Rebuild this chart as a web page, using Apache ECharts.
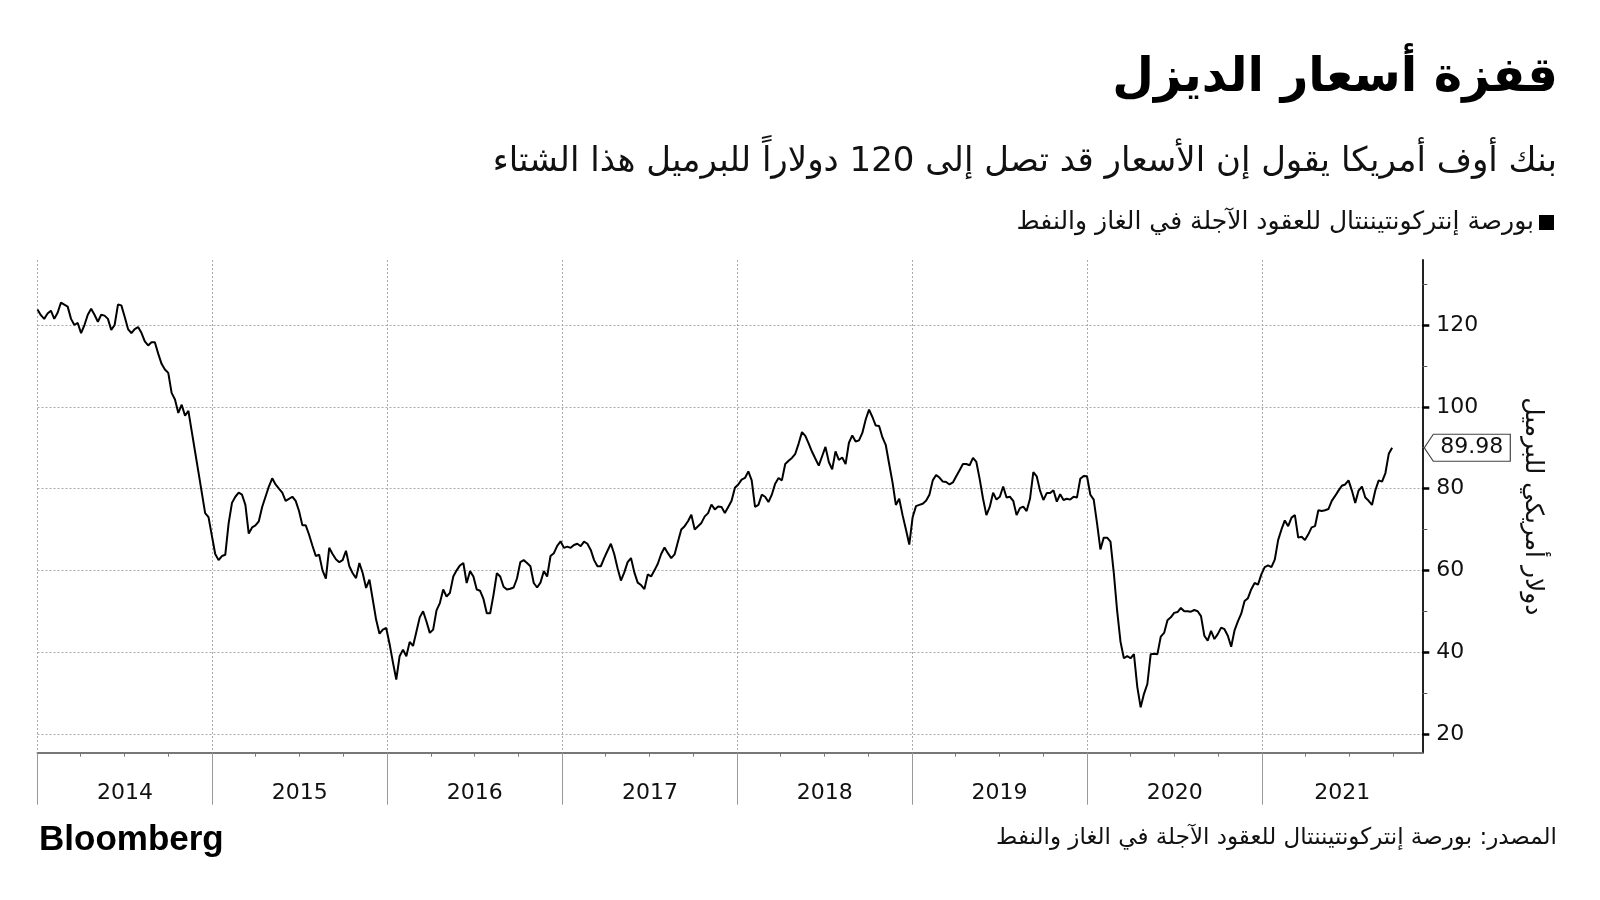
<!DOCTYPE html>
<html><head><meta charset="utf-8">
<script src="https://cdn.jsdelivr.net/npm/echarts@6/dist/echarts.min.js"></script>
<style>html,body{margin:0;padding:0;background:#fff}#c{width:1600px;height:900px}</style>
</head><body><div id="c"></div>
<script>
// ---- data ----
const titleText = 'قفزة أسعار الديزل';
const subtitleText = 'بنك أوف أمريكا يقول إن الأسعار قد تصل إلى 120 دولاراً للبرميل هذا الشتاء';
const seriesName = 'بورصة إنتركونتيننتال للعقود الآجلة في الغاز والنفط';
const sourceText = 'المصدر: بورصة إنتركونتيننتال للعقود الآجلة في الغاز والنفط';
const yAxisName = 'دولار أمريكي للبرميل';
const yearLabels = ['2014','2015','2016','2017','2018','2019','2020','2021'];
const yTickValues = [20, 40, 60, 80, 100, 120];
const yMinorTickValues = [30, 50, 70, 90, 110, 130];
const lastValueLabel = '89.98';
// weekly closes, first one on 2014-01-01
const firstDate = [2014, 0, 1];
const stepDays = 7;
const dieselPrices = [
123.8,122.4,121.5,122.8,123.5,121.5,123,125.5,125,124.5,121.5,120,120.5,118,120,122.5,124,122.5,120.8,122.5,
122.3,121.5,118.8,120,125,124.8,122,119,118,119,119.5,118.1,116,115,115.8,115.8,113,110.5,109.1,108.3,
103.4,101.8,98.5,100.5,97.8,99,94,89,84,79,74,73,68.5,64,62.5,63.5,63.8,71.5,76.5,78,
79,78.5,76,69,70.5,71,72,75.5,78,80.5,82.5,81,80,79,77,77.5,78,77,74.5,71,
71,68.7,66,63.5,63.8,60,58,65.5,64,62.7,62,62.5,64.8,61,59.3,58.1,61.8,59.3,55.7,57.7,
52.8,47.9,44.5,45.5,45.9,42,37.5,33.3,39,40.6,39,42.5,41.5,45,48.5,50,47.5,44.7,45.5,50.2,
52,55.3,53.6,54.5,58.5,60,61.2,61.8,56.9,59.8,58.5,55.3,55,53,49.5,49.5,54,59.3,58.5,56,
55.3,55.5,55.8,58,62,62.5,61.8,61,56.9,55.8,57,59.8,58.5,63.5,64.2,66,67.1,65.5,65.8,65.5,
66.2,66.5,65.9,67,66.5,65,62.5,61,61,63,64.8,66.5,64,60.5,57.5,59.5,62,63,59.5,57,
56.4,55.4,59,58.5,60,61.6,64,65.6,64.2,63,63.9,67,70,70.8,72,73.6,70,70.8,71.6,73.2,
74,76.1,74.9,75.6,75.5,74,75.5,77,80.2,81,82.2,82.6,84.2,82,75.5,76,78.5,78,76.7,78.5,
81.2,82.6,82,86,86.8,87.5,88.5,91,93.8,92.9,91,89,87.3,85.6,87.9,90.2,86.5,84.7,89.1,87,
87.6,86,91.2,93,91.5,91.8,93.6,96.9,99.3,97.5,95.4,95.3,92.5,90.6,86,81.5,76,77.5,73.5,70,
66.3,73,75.7,76,76.3,77,78.5,82,83.3,82.7,81.7,81.6,81,81.5,83,84.5,86,86,85.7,87.5,
86.5,82.3,77.5,73.5,75.5,79,77.3,78,80.5,77.8,78,77,73.5,75.2,75.6,74.5,77.5,84,83,79.5,
77.2,78.9,78.9,79.6,76.8,78.6,77.2,77.5,77.3,78,77.8,82.4,83.1,83,78.5,77.3,71.5,65.1,68,68,
67,59.3,50,42.5,38.5,39,38.5,39.5,31.5,26.5,29.8,32.2,39.5,39.6,39.5,43.8,44.7,47.8,48.5,49.6,
49.8,50.8,50,50,49.9,50.3,50,48.8,44,42.8,45.2,43.2,44.4,46,45.6,44,41.3,45.3,47.5,49.4,
52.5,53.2,55.4,56.9,56.5,59,60.8,61.2,60.8,62.6,67.4,70,72.2,70.8,72.9,73.5,68,68.2,67.4,68.8,
70.5,70.8,74.7,74.5,74.7,75,77,78.2,79.5,80.7,81,82,79.5,76.5,79.5,80.5,77.8,77,76,79.6,
82,81.7,83.8,88.5,89.98
];

// ---- build ----
const arabicFont = "'DejaVu Sans', sans-serif";
const latinFont = "'DejaVu Sans', sans-serif";
const seriesData = dieselPrices.map((v, i) => [new Date(firstDate[0], firstDate[1], firstDate[2] + i * stepDays).getTime(), v]);
const tMin = new Date(2014, 0, 1).getTime();
const tMax = new Date(2021, 11, 1).getTime();
const yearStarts = yearLabels.map(y => new Date(+y, 0, 1).getTime());
const yearMids = yearLabels.map(y => {
  const a = new Date(+y, 0, 1).getTime();
  const b = Math.min(new Date(+y + 1, 0, 1).getTime(), tMax);
  return (a + b) / 2;
});
const quarterTicks = [];
yearLabels.forEach(y => { [3, 6, 9].forEach(m => { const t = new Date(+y, m, 1).getTime(); if (t < tMax) quarterTicks.push(t); }); });

const chart = echarts.init(document.getElementById('c'), null, {renderer: 'canvas'});
const option = {
  backgroundColor: '#fff',
  animation: false,
  textStyle: {fontFamily: latinFont},
  title: [
    {text: titleText, right: 37, top: 50, textStyle: {fontFamily: arabicFont, fontSize: 48, fontWeight: 'bold', color: '#000'}},
    {text: subtitleText, right: 38, top: 140, textStyle: {fontFamily: arabicFont, fontSize: 34, fontWeight: 'normal', color: '#111'}},
    {text: sourceText, right: 38, top: 822, textStyle: {fontFamily: arabicFont, fontSize: 23, fontWeight: 'normal', color: '#111'}},
    {text: 'Bloomberg', left: 34, top: 818, textStyle: {fontFamily: "'Liberation Sans', Arial, sans-serif", fontSize: 35, fontWeight: 'bold', color: '#000'}}
  ],
  legend: {
    right: 41, top: 205, icon: 'rect', itemWidth: 15, itemHeight: 15, align: 'right',
    textStyle: {fontFamily: arabicFont, fontSize: 25, color: '#111'},
    data: [{name: seriesName, itemStyle: {color: '#000'}}]
  },
  grid: {left: 37.5, right: 177.7, top: 260, bottom: 147.3},
  xAxis: [
    {
      type: 'value', min: tMin, max: tMax, position: 'bottom',
      axisLine: {show: true, lineStyle: {color: '#777', width: 2}},
      axisTick: {show: true, customValues: yearStarts, length: 52, lineStyle: {color: '#999', width: 1}},
      axisLabel: {show: false},
      splitLine: {show: true, lineStyle: {color: '#aaa', width: 1, type: [2, 2]}}
    },
    {
      type: 'value', min: tMin, max: tMax, position: 'bottom',
      axisLine: {show: false},
      axisTick: {show: true, customValues: quarterTicks, length: 4, lineStyle: {color: '#777', width: 1}},
      axisLabel: {show: true, customValues: yearMids, margin: 30, fontSize: 22, color: '#111', fontFamily: latinFont,
        formatter: (v) => yearLabels[new Date(v).getFullYear() - 2014]},
      splitLine: {show: false}
    }
  ],
  yAxis: [
    {
      type: 'value', position: 'right', min: 15.4, max: 135.9,
      name: yAxisName, nameLocation: 'middle', nameGap: 98, nameRotate: -90,
      nameTextStyle: {fontFamily: arabicFont, fontSize: 25, color: '#111'},
      axisLine: {show: true, lineStyle: {color: '#222', width: 2}},
      axisTick: {show: true, customValues: yTickValues, length: 7, lineStyle: {color: '#000', width: 2.5}},
      axisLabel: {show: true, customValues: yTickValues, margin: 14, fontSize: 22, color: '#111', fontFamily: latinFont},
      splitLine: {show: true, lineStyle: {color: '#aaa', width: 1, type: [2, 2]}}
    },
    {
      type: 'value', position: 'right', min: 15.4, max: 135.9,
      axisLine: {show: false},
      axisTick: {show: true, customValues: yMinorTickValues, length: 5, lineStyle: {color: '#555', width: 1}},
      axisLabel: {show: false},
      splitLine: {show: false}
    }
  ],
  series: [{
    name: seriesName, type: 'line', xAxisIndex: 0, yAxisIndex: 0,
    data: seriesData, showSymbol: false, symbol: 'none',
    lineStyle: {color: '#000', width: 2}, itemStyle: {color: '#000'}
  }]
};
chart.setOption(option);

// last value tag on the axis
const lastVal = dieselPrices[dieselPrices.length - 1];
const py = chart.convertToPixel({yAxisIndex: 0}, lastVal);
const px = chart.convertToPixel({xAxisIndex: 0}, tMax);
const h = 13.5;
chart.setOption({
  graphic: [
    {type: 'polygon', shape: {points: [[px + 2, py], [px + 11, py - h], [px + 88, py - h], [px + 88, py + h], [px + 11, py + h]]},
     style: {fill: '#fff', stroke: '#444', lineWidth: 1.2}, z: 100},
    {type: 'text', x: px + 49.5, y: py, style: {text: lastValueLabel, fontFamily: latinFont, fontSize: 22, fill: '#111', align: 'center', verticalAlign: 'middle'}, z: 101}
  ]
});
</script></body></html>
